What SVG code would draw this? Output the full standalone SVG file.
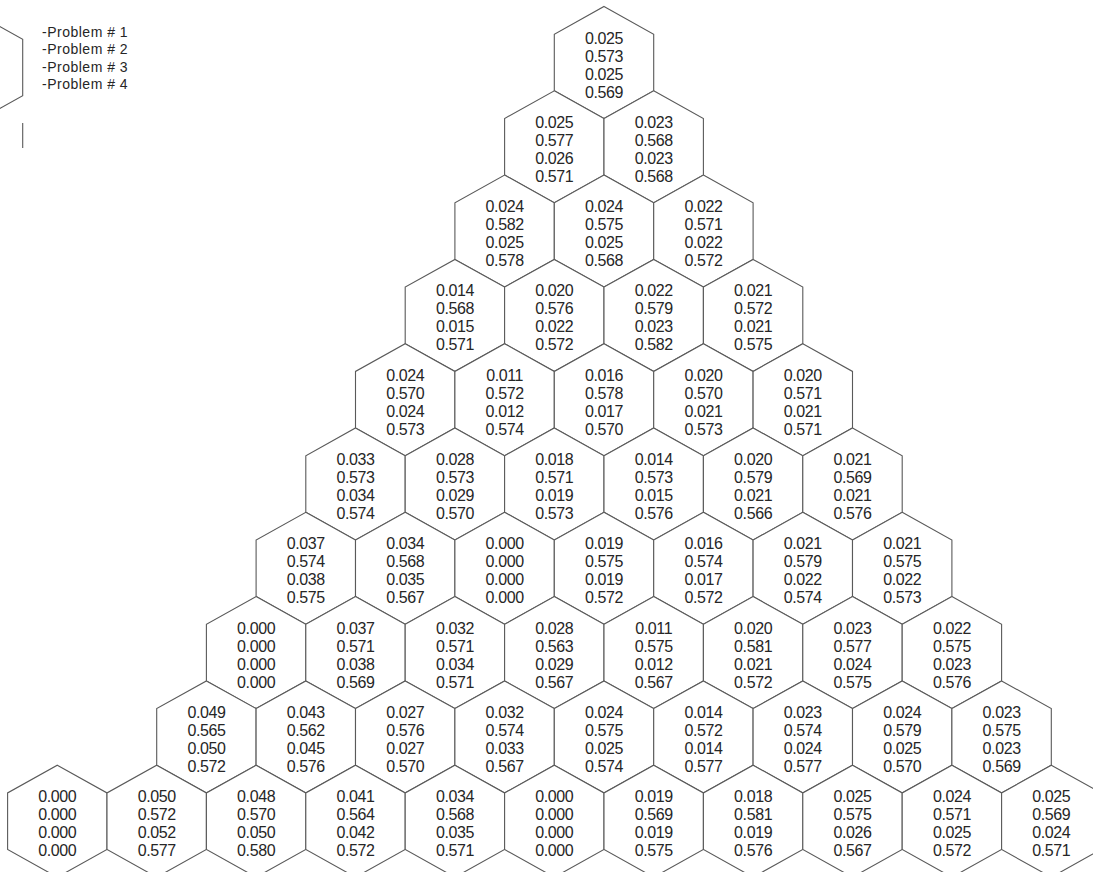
<svg xmlns="http://www.w3.org/2000/svg" xmlns:xlink="http://www.w3.org/1999/xlink" width="1093" height="872" viewBox="0 0 1093 872">
<defs>
<path id="hx" d="M0,-56 L49.7,-28.3 L49.7,28.3 L0,56 L-49.7,28.3 L-49.7,-28.3 Z"/>
<style>
.h use{fill:#fff;stroke:#5a5a5a;stroke-width:1.1}
.h text{font-family:"Liberation Sans",Arial,sans-serif;font-size:16px;fill:#262626;text-anchor:middle;letter-spacing:-0.4px}
.lg{font-family:"Liberation Sans",Arial,sans-serif;font-size:14px;fill:#262626;letter-spacing:0.5px}
.ln{fill:none;stroke:#5a5a5a;stroke-width:1.1}
</style>
</defs>
<rect width="1093" height="872" fill="#fff"/>
<g id="legend">
<use href="#hx" transform="translate(-27,67.5)" class="ln"/>
<line x1="22.7" y1="123" x2="22.7" y2="148" class="ln"/>
<text class="lg" x="42" y="36.5">-Problem # 1</text>
<text class="lg" x="42" y="54">-Problem # 2</text>
<text class="lg" x="42" y="71.5">-Problem # 3</text>
<text class="lg" x="42" y="89">-Problem # 4</text>
</g>
<g id="connectors"/>
<g class="h">
<g id="n0-0" transform="translate(604,62.5)"><use href="#hx"/><text><tspan x="0" y="-19">0.025</tspan><tspan x="0" y="-1">0.573</tspan><tspan x="0" y="17">0.025</tspan><tspan x="0" y="35">0.569</tspan></text></g>

<g id="n1-0" transform="translate(554.3,146.8)"><use href="#hx"/><text><tspan x="0" y="-19">0.025</tspan><tspan x="0" y="-1">0.577</tspan><tspan x="0" y="17">0.026</tspan><tspan x="0" y="35">0.571</tspan></text></g>
<g id="n1-1" transform="translate(653.7,146.8)"><use href="#hx"/><text><tspan x="0" y="-19">0.023</tspan><tspan x="0" y="-1">0.568</tspan><tspan x="0" y="17">0.023</tspan><tspan x="0" y="35">0.568</tspan></text></g>

<g id="n2-0" transform="translate(504.6,231.1)"><use href="#hx"/><text><tspan x="0" y="-19">0.024</tspan><tspan x="0" y="-1">0.582</tspan><tspan x="0" y="17">0.025</tspan><tspan x="0" y="35">0.578</tspan></text></g>
<g id="n2-1" transform="translate(604,231.1)"><use href="#hx"/><text><tspan x="0" y="-19">0.024</tspan><tspan x="0" y="-1">0.575</tspan><tspan x="0" y="17">0.025</tspan><tspan x="0" y="35">0.568</tspan></text></g>
<g id="n2-2" transform="translate(703.4,231.1)"><use href="#hx"/><text><tspan x="0" y="-19">0.022</tspan><tspan x="0" y="-1">0.571</tspan><tspan x="0" y="17">0.022</tspan><tspan x="0" y="35">0.572</tspan></text></g>

<g id="n3-0" transform="translate(454.9,315.4)"><use href="#hx"/><text><tspan x="0" y="-19">0.014</tspan><tspan x="0" y="-1">0.568</tspan><tspan x="0" y="17">0.015</tspan><tspan x="0" y="35">0.571</tspan></text></g>
<g id="n3-1" transform="translate(554.3,315.4)"><use href="#hx"/><text><tspan x="0" y="-19">0.020</tspan><tspan x="0" y="-1">0.576</tspan><tspan x="0" y="17">0.022</tspan><tspan x="0" y="35">0.572</tspan></text></g>
<g id="n3-2" transform="translate(653.7,315.4)"><use href="#hx"/><text><tspan x="0" y="-19">0.022</tspan><tspan x="0" y="-1">0.579</tspan><tspan x="0" y="17">0.023</tspan><tspan x="0" y="35">0.582</tspan></text></g>
<g id="n3-3" transform="translate(753.1,315.4)"><use href="#hx"/><text><tspan x="0" y="-19">0.021</tspan><tspan x="0" y="-1">0.572</tspan><tspan x="0" y="17">0.021</tspan><tspan x="0" y="35">0.575</tspan></text></g>

<g id="n4-0" transform="translate(405.2,399.7)"><use href="#hx"/><text><tspan x="0" y="-19">0.024</tspan><tspan x="0" y="-1">0.570</tspan><tspan x="0" y="17">0.024</tspan><tspan x="0" y="35">0.573</tspan></text></g>
<g id="n4-1" transform="translate(504.6,399.7)"><use href="#hx"/><text><tspan x="0" y="-19">0.011</tspan><tspan x="0" y="-1">0.572</tspan><tspan x="0" y="17">0.012</tspan><tspan x="0" y="35">0.574</tspan></text></g>
<g id="n4-2" transform="translate(604,399.7)"><use href="#hx"/><text><tspan x="0" y="-19">0.016</tspan><tspan x="0" y="-1">0.578</tspan><tspan x="0" y="17">0.017</tspan><tspan x="0" y="35">0.570</tspan></text></g>
<g id="n4-3" transform="translate(703.4,399.7)"><use href="#hx"/><text><tspan x="0" y="-19">0.020</tspan><tspan x="0" y="-1">0.570</tspan><tspan x="0" y="17">0.021</tspan><tspan x="0" y="35">0.573</tspan></text></g>
<g id="n4-4" transform="translate(802.8,399.7)"><use href="#hx"/><text><tspan x="0" y="-19">0.020</tspan><tspan x="0" y="-1">0.571</tspan><tspan x="0" y="17">0.021</tspan><tspan x="0" y="35">0.571</tspan></text></g>

<g id="n5-0" transform="translate(355.5,484)"><use href="#hx"/><text><tspan x="0" y="-19">0.033</tspan><tspan x="0" y="-1">0.573</tspan><tspan x="0" y="17">0.034</tspan><tspan x="0" y="35">0.574</tspan></text></g>
<g id="n5-1" transform="translate(454.9,484)"><use href="#hx"/><text><tspan x="0" y="-19">0.028</tspan><tspan x="0" y="-1">0.573</tspan><tspan x="0" y="17">0.029</tspan><tspan x="0" y="35">0.570</tspan></text></g>
<g id="n5-2" transform="translate(554.3,484)"><use href="#hx"/><text><tspan x="0" y="-19">0.018</tspan><tspan x="0" y="-1">0.571</tspan><tspan x="0" y="17">0.019</tspan><tspan x="0" y="35">0.573</tspan></text></g>
<g id="n5-3" transform="translate(653.7,484)"><use href="#hx"/><text><tspan x="0" y="-19">0.014</tspan><tspan x="0" y="-1">0.573</tspan><tspan x="0" y="17">0.015</tspan><tspan x="0" y="35">0.576</tspan></text></g>
<g id="n5-4" transform="translate(753.1,484)"><use href="#hx"/><text><tspan x="0" y="-19">0.020</tspan><tspan x="0" y="-1">0.579</tspan><tspan x="0" y="17">0.021</tspan><tspan x="0" y="35">0.566</tspan></text></g>
<g id="n5-5" transform="translate(852.5,484)"><use href="#hx"/><text><tspan x="0" y="-19">0.021</tspan><tspan x="0" y="-1">0.569</tspan><tspan x="0" y="17">0.021</tspan><tspan x="0" y="35">0.576</tspan></text></g>

<g id="n6-0" transform="translate(305.8,568.3)"><use href="#hx"/><text><tspan x="0" y="-19">0.037</tspan><tspan x="0" y="-1">0.574</tspan><tspan x="0" y="17">0.038</tspan><tspan x="0" y="35">0.575</tspan></text></g>
<g id="n6-1" transform="translate(405.2,568.3)"><use href="#hx"/><text><tspan x="0" y="-19">0.034</tspan><tspan x="0" y="-1">0.568</tspan><tspan x="0" y="17">0.035</tspan><tspan x="0" y="35">0.567</tspan></text></g>
<g id="n6-2" transform="translate(504.6,568.3)"><use href="#hx"/><text><tspan x="0" y="-19">0.000</tspan><tspan x="0" y="-1">0.000</tspan><tspan x="0" y="17">0.000</tspan><tspan x="0" y="35">0.000</tspan></text></g>
<g id="n6-3" transform="translate(604,568.3)"><use href="#hx"/><text><tspan x="0" y="-19">0.019</tspan><tspan x="0" y="-1">0.575</tspan><tspan x="0" y="17">0.019</tspan><tspan x="0" y="35">0.572</tspan></text></g>
<g id="n6-4" transform="translate(703.4,568.3)"><use href="#hx"/><text><tspan x="0" y="-19">0.016</tspan><tspan x="0" y="-1">0.574</tspan><tspan x="0" y="17">0.017</tspan><tspan x="0" y="35">0.572</tspan></text></g>
<g id="n6-5" transform="translate(802.8,568.3)"><use href="#hx"/><text><tspan x="0" y="-19">0.021</tspan><tspan x="0" y="-1">0.579</tspan><tspan x="0" y="17">0.022</tspan><tspan x="0" y="35">0.574</tspan></text></g>
<g id="n6-6" transform="translate(902.2,568.3)"><use href="#hx"/><text><tspan x="0" y="-19">0.021</tspan><tspan x="0" y="-1">0.575</tspan><tspan x="0" y="17">0.022</tspan><tspan x="0" y="35">0.573</tspan></text></g>

<g id="n7-0" transform="translate(256.1,652.6)"><use href="#hx"/><text><tspan x="0" y="-19">0.000</tspan><tspan x="0" y="-1">0.000</tspan><tspan x="0" y="17">0.000</tspan><tspan x="0" y="35">0.000</tspan></text></g>
<g id="n7-1" transform="translate(355.5,652.6)"><use href="#hx"/><text><tspan x="0" y="-19">0.037</tspan><tspan x="0" y="-1">0.571</tspan><tspan x="0" y="17">0.038</tspan><tspan x="0" y="35">0.569</tspan></text></g>
<g id="n7-2" transform="translate(454.9,652.6)"><use href="#hx"/><text><tspan x="0" y="-19">0.032</tspan><tspan x="0" y="-1">0.571</tspan><tspan x="0" y="17">0.034</tspan><tspan x="0" y="35">0.571</tspan></text></g>
<g id="n7-3" transform="translate(554.3,652.6)"><use href="#hx"/><text><tspan x="0" y="-19">0.028</tspan><tspan x="0" y="-1">0.563</tspan><tspan x="0" y="17">0.029</tspan><tspan x="0" y="35">0.567</tspan></text></g>
<g id="n7-4" transform="translate(653.7,652.6)"><use href="#hx"/><text><tspan x="0" y="-19">0.011</tspan><tspan x="0" y="-1">0.575</tspan><tspan x="0" y="17">0.012</tspan><tspan x="0" y="35">0.567</tspan></text></g>
<g id="n7-5" transform="translate(753.1,652.6)"><use href="#hx"/><text><tspan x="0" y="-19">0.020</tspan><tspan x="0" y="-1">0.581</tspan><tspan x="0" y="17">0.021</tspan><tspan x="0" y="35">0.572</tspan></text></g>
<g id="n7-6" transform="translate(852.5,652.6)"><use href="#hx"/><text><tspan x="0" y="-19">0.023</tspan><tspan x="0" y="-1">0.577</tspan><tspan x="0" y="17">0.024</tspan><tspan x="0" y="35">0.575</tspan></text></g>
<g id="n7-7" transform="translate(951.9,652.6)"><use href="#hx"/><text><tspan x="0" y="-19">0.022</tspan><tspan x="0" y="-1">0.575</tspan><tspan x="0" y="17">0.023</tspan><tspan x="0" y="35">0.576</tspan></text></g>

<g id="n8-0" transform="translate(206.4,736.9)"><use href="#hx"/><text><tspan x="0" y="-19">0.049</tspan><tspan x="0" y="-1">0.565</tspan><tspan x="0" y="17">0.050</tspan><tspan x="0" y="35">0.572</tspan></text></g>
<g id="n8-1" transform="translate(305.8,736.9)"><use href="#hx"/><text><tspan x="0" y="-19">0.043</tspan><tspan x="0" y="-1">0.562</tspan><tspan x="0" y="17">0.045</tspan><tspan x="0" y="35">0.576</tspan></text></g>
<g id="n8-2" transform="translate(405.2,736.9)"><use href="#hx"/><text><tspan x="0" y="-19">0.027</tspan><tspan x="0" y="-1">0.576</tspan><tspan x="0" y="17">0.027</tspan><tspan x="0" y="35">0.570</tspan></text></g>
<g id="n8-3" transform="translate(504.6,736.9)"><use href="#hx"/><text><tspan x="0" y="-19">0.032</tspan><tspan x="0" y="-1">0.574</tspan><tspan x="0" y="17">0.033</tspan><tspan x="0" y="35">0.567</tspan></text></g>
<g id="n8-4" transform="translate(604,736.9)"><use href="#hx"/><text><tspan x="0" y="-19">0.024</tspan><tspan x="0" y="-1">0.575</tspan><tspan x="0" y="17">0.025</tspan><tspan x="0" y="35">0.574</tspan></text></g>
<g id="n8-5" transform="translate(703.4,736.9)"><use href="#hx"/><text><tspan x="0" y="-19">0.014</tspan><tspan x="0" y="-1">0.572</tspan><tspan x="0" y="17">0.014</tspan><tspan x="0" y="35">0.577</tspan></text></g>
<g id="n8-6" transform="translate(802.8,736.9)"><use href="#hx"/><text><tspan x="0" y="-19">0.023</tspan><tspan x="0" y="-1">0.574</tspan><tspan x="0" y="17">0.024</tspan><tspan x="0" y="35">0.577</tspan></text></g>
<g id="n8-7" transform="translate(902.2,736.9)"><use href="#hx"/><text><tspan x="0" y="-19">0.024</tspan><tspan x="0" y="-1">0.579</tspan><tspan x="0" y="17">0.025</tspan><tspan x="0" y="35">0.570</tspan></text></g>
<g id="n8-8" transform="translate(1001.6,736.9)"><use href="#hx"/><text><tspan x="0" y="-19">0.023</tspan><tspan x="0" y="-1">0.575</tspan><tspan x="0" y="17">0.023</tspan><tspan x="0" y="35">0.569</tspan></text></g>

<g id="n9-0" transform="translate(57.3,821.2)"><use href="#hx"/><text><tspan x="0" y="-19">0.000</tspan><tspan x="0" y="-1">0.000</tspan><tspan x="0" y="17">0.000</tspan><tspan x="0" y="35">0.000</tspan></text></g>
<g id="n9-1" transform="translate(156.7,821.2)"><use href="#hx"/><text><tspan x="0" y="-19">0.050</tspan><tspan x="0" y="-1">0.572</tspan><tspan x="0" y="17">0.052</tspan><tspan x="0" y="35">0.577</tspan></text></g>
<g id="n9-2" transform="translate(256.1,821.2)"><use href="#hx"/><text><tspan x="0" y="-19">0.048</tspan><tspan x="0" y="-1">0.570</tspan><tspan x="0" y="17">0.050</tspan><tspan x="0" y="35">0.580</tspan></text></g>
<g id="n9-3" transform="translate(355.5,821.2)"><use href="#hx"/><text><tspan x="0" y="-19">0.041</tspan><tspan x="0" y="-1">0.564</tspan><tspan x="0" y="17">0.042</tspan><tspan x="0" y="35">0.572</tspan></text></g>
<g id="n9-4" transform="translate(454.9,821.2)"><use href="#hx"/><text><tspan x="0" y="-19">0.034</tspan><tspan x="0" y="-1">0.568</tspan><tspan x="0" y="17">0.035</tspan><tspan x="0" y="35">0.571</tspan></text></g>
<g id="n9-5" transform="translate(554.3,821.2)"><use href="#hx"/><text><tspan x="0" y="-19">0.000</tspan><tspan x="0" y="-1">0.000</tspan><tspan x="0" y="17">0.000</tspan><tspan x="0" y="35">0.000</tspan></text></g>
<g id="n9-6" transform="translate(653.7,821.2)"><use href="#hx"/><text><tspan x="0" y="-19">0.019</tspan><tspan x="0" y="-1">0.569</tspan><tspan x="0" y="17">0.019</tspan><tspan x="0" y="35">0.575</tspan></text></g>
<g id="n9-7" transform="translate(753.1,821.2)"><use href="#hx"/><text><tspan x="0" y="-19">0.018</tspan><tspan x="0" y="-1">0.581</tspan><tspan x="0" y="17">0.019</tspan><tspan x="0" y="35">0.576</tspan></text></g>
<g id="n9-8" transform="translate(852.5,821.2)"><use href="#hx"/><text><tspan x="0" y="-19">0.025</tspan><tspan x="0" y="-1">0.575</tspan><tspan x="0" y="17">0.026</tspan><tspan x="0" y="35">0.567</tspan></text></g>
<g id="n9-9" transform="translate(951.9,821.2)"><use href="#hx"/><text><tspan x="0" y="-19">0.024</tspan><tspan x="0" y="-1">0.571</tspan><tspan x="0" y="17">0.025</tspan><tspan x="0" y="35">0.572</tspan></text></g>
<g id="n9-10" transform="translate(1051.3,821.2)"><use href="#hx"/><text><tspan x="0" y="-19">0.025</tspan><tspan x="0" y="-1">0.569</tspan><tspan x="0" y="17">0.024</tspan><tspan x="0" y="35">0.571</tspan></text></g>
</g>
</svg>
